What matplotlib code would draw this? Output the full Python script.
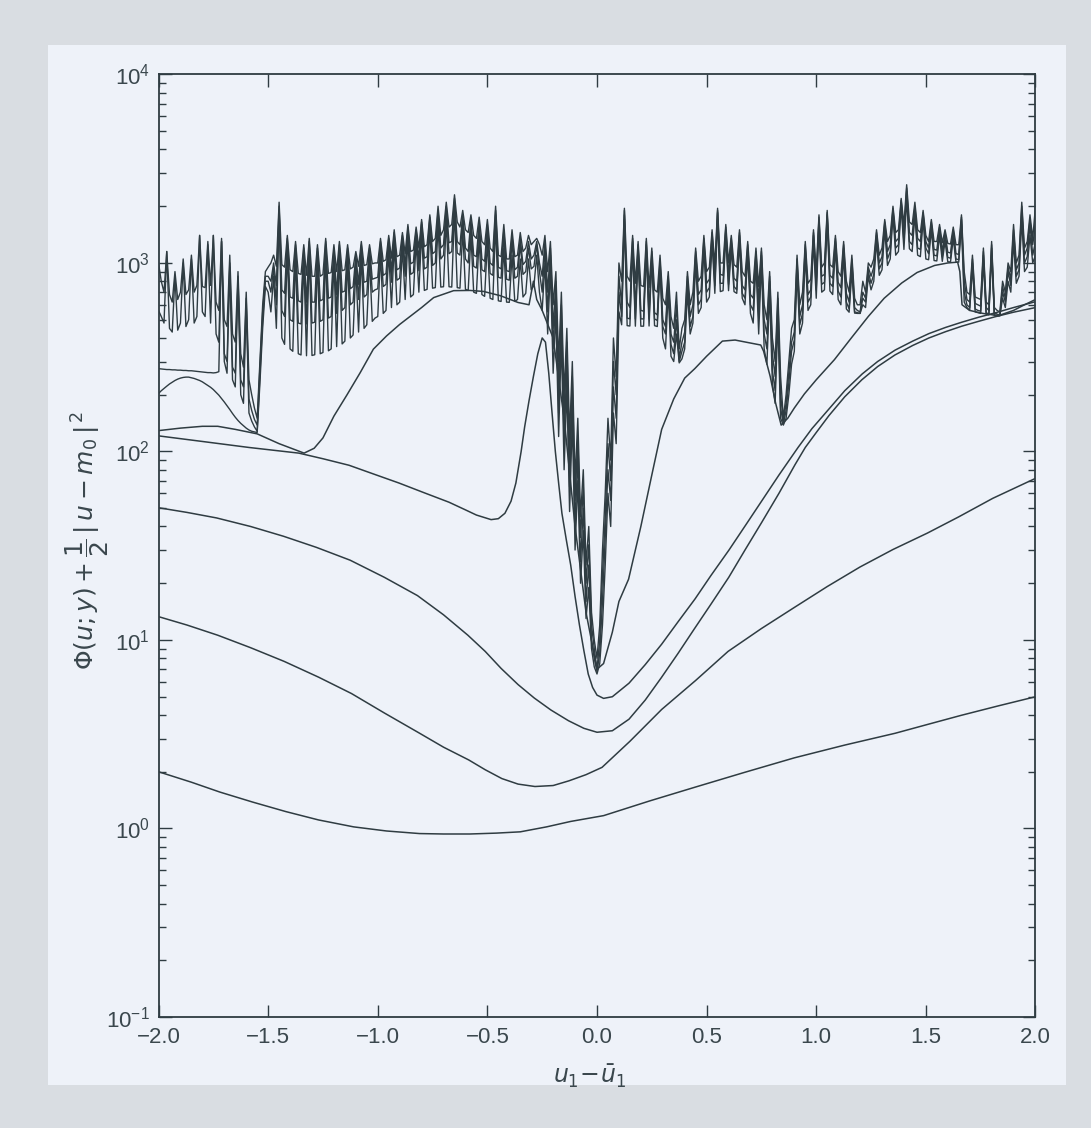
import numpy as np
import matplotlib.pyplot as plt
from matplotlib.patches import Rectangle
from matplotlib.ticker import LogLocator, NullFormatter

plt.rcParams['font.family'] = ['Liberation Sans Narrow', 'Liberation Sans', 'DejaVu Sans']
plt.rcParams['mathtext.fontset'] = 'dejavusans'

# =============================================================================
# DATA (x = u1 - u1bar)
# =============================================================================

# smooth curves (short assimilation windows)
a_x = [-2.0, -1.85, -1.72, -1.57, -1.42, -1.27, -1.11, -0.96, -0.81, -0.7,
       -0.58, -0.46, -0.35, -0.23, -0.12, 0.03, 0.24, 0.45, 0.67, 0.9,
       1.13, 1.36, 1.51, 1.66, 1.83, 2.0]
a_v = [2.0, 1.76, 1.56, 1.38, 1.23, 1.11, 1.02, 0.97, 0.94, 0.935,
       0.935, 0.945, 0.96, 1.02, 1.09, 1.17, 1.4, 1.66, 1.98, 2.37,
       2.77, 3.2, 3.57, 3.98, 4.47, 5.0]

b_x = [-2.0, -1.87, -1.73, -1.58, -1.427, -1.27, -1.12, -0.97, -0.813, -0.7,
       -0.585, -0.51, -0.434, -0.36, -0.283, -0.2, -0.128, -0.05, 0.023, 0.15,
       0.295, 0.45, 0.598, 0.75, 0.897, 1.05, 1.2, 1.35, 1.507, 1.65,
       1.805, 2.0]
b_v = [13.3, 12.0, 10.6, 9.1, 7.7, 6.35, 5.2, 4.1, 3.22, 2.7,
       2.31, 2.05, 1.84, 1.72, 1.67, 1.69, 1.79, 1.93, 2.11, 2.9,
       4.28, 6.1, 8.7, 11.5, 14.8, 19.2, 24.4, 30.2, 36.9, 45,
       56.4, 72]

c_x = [-2.0, -1.87, -1.735, -1.58, -1.43, -1.28, -1.126, -0.97, -0.819, -0.7,
       -0.589, -0.51, -0.437, -0.36, -0.286, -0.21, -0.13, -0.06, 0.0, 0.07,
       0.146, 0.22, 0.293, 0.37, 0.445, 0.52, 0.601, 0.675, 0.751, 0.83,
       0.903, 0.95, 1.0, 1.058, 1.13, 1.208, 1.28, 1.359, 1.44, 1.514,
       1.59, 1.664, 1.74, 1.815, 1.9, 2.0]
c_v = [50.3, 47.5, 44.4, 40, 35.5, 31, 26.5, 21.5, 17.2, 13.6,
       10.6, 8.7, 7.06, 5.8, 4.92, 4.25, 3.73, 3.4, 3.24, 3.3,
       3.8, 4.8, 6.3, 8.5, 11.5, 15.5, 21.5, 30, 42, 60,
       85, 105, 126, 155, 195, 240, 282, 325, 365, 400,
       432, 462, 490, 518, 548, 580]

d_x = [-2.0, -1.8, -1.587, -1.36, -1.25, -1.131, -1.02, -0.903, -0.79, -0.675,
       -0.6, -0.55, -0.483, -0.45, -0.42, -0.392, -0.37, -0.346, -0.33, -0.31,
       -0.29, -0.27, -0.25, -0.235, -0.22, -0.205, -0.19, -0.175, -0.16, -0.14,
       -0.12, -0.1, -0.08, -0.06, -0.04, -0.02, 0.0, 0.03, 0.07, 0.146,
       0.22, 0.295, 0.37, 0.447, 0.52, 0.602, 0.68, 0.753, 0.83, 0.917,
       0.98, 1.058, 1.13, 1.21, 1.28, 1.36, 1.44, 1.514, 1.59, 1.664,
       1.74, 1.815, 1.9, 2.0]
d_v = [121, 113, 105, 98, 91.5, 84.5, 76, 68, 60.5, 53.8,
       49, 46, 43.5, 44, 47, 54.5, 68, 100, 135, 186,
       250, 330, 400, 380, 260, 160, 100, 68, 47, 34,
       25, 17, 12, 8.8, 6.6, 5.6, 5.1, 4.9, 5.0, 5.9,
       7.4, 9.5, 12.5, 16.5, 22, 30, 41, 55, 75, 105,
       132, 168, 210, 258, 300, 345, 385, 422, 455, 485,
       515, 543, 580, 623]

e_x = [-2.0, -1.9, -1.8, -1.73, -1.65, -1.55, -1.45, -1.336, -1.29, -1.25,
       -1.2, -1.14, -1.08, -1.02, -0.96, -0.9, -0.8, -0.745, -0.654, -0.58,
       -0.517, -0.44, -0.36, -0.31, -0.29, -0.275, -0.25, -0.2, -0.15, -0.1,
       -0.05, 0.0, 0.03, 0.07, 0.1, 0.144, 0.2, 0.25, 0.295, 0.35,
       0.4, 0.446, 0.5, 0.572, 0.63, 0.69, 0.747, 0.76, 0.79, 0.815,
       0.84, 0.87, 0.9, 0.946, 1.0, 1.083, 1.16, 1.238, 1.31, 1.39,
       1.46, 1.54, 1.6, 1.645, 1.655, 1.665, 1.7, 1.76, 1.83, 1.9,
       1.95, 2.0]
e_v = [129, 133, 136, 136, 131, 124, 110, 98, 104, 118,
       154, 200, 262, 349, 410, 472, 580, 655, 713, 715,
       706, 670, 617, 600, 800, 640, 560, 400, 150, 40,
       14, 7, 7.5, 11, 16, 21, 40, 75, 131, 190,
       245, 275, 320, 385, 390, 378, 367, 340, 250, 180,
       138, 150, 170, 202, 240, 307, 400, 521, 650, 783,
       890, 970, 1000, 1010, 900, 600, 560, 540, 525, 560,
       600, 640]

# rugged curves (long windows), sampled every 0.0125 from -2 to 2 (321 values)
rough_x = np.linspace(-2.0, 2.0, 321)

f_v = [203, 210, 216, 222, 228, 233, 238, 242, 245, 247, 248, 248, 246, 244, 241, 238, 234, 229, 224, 219,
       213, 206, 199, 191, 183, 175, 167, 159, 152, 146, 141, 137, 133, 130, 128, 127, 126, 230, 450, 750,
       700, 550, 850, 450, 1800, 400, 370, 1200, 350, 340, 1100, 330, 325, 1050, 322, 1150, 323, 326, 1050, 330,
       335, 1150, 342, 350, 1050, 360, 1100, 372, 385, 1050, 400, 415, 950, 430, 1100, 450, 470, 1050, 490, 510,
       520, 1100, 540, 560, 1150, 580, 1250, 600, 620, 1200, 640, 1350, 660, 680, 1300, 700, 1450, 715, 725, 1550,
       735, 740, 1600, 745, 748, 1700, 748, 745, 1900, 740, 735, 1500, 725, 715, 1400, 700, 690, 1350, 680, 665,
       1300, 650, 640, 1600, 630, 625, 1200, 620, 618, 1100, 625, 640, 1050, 660, 690, 1050, 720, 760, 1100, 700,
       560, 1000, 420, 950, 260, 550, 120, 400, 80, 220, 48, 150, 30, 70, 20, 38, 13, 19, 9, 7.2,
       6.6, 7.5, 12, 25, 60, 40, 160, 110, 550, 470, 1700, 465, 463, 1200, 462, 1100, 462, 462, 1150, 463,
       1050, 465, 460, 950, 400, 350, 700, 320, 300, 420, 295, 310, 350, 700, 420, 480, 1000, 540, 580, 1200,
       620, 660, 1300, 690, 1700, 705, 713, 1400, 713, 1200, 705, 690, 1300, 650, 600, 1100, 540, 480, 1000, 420,
       1000, 350, 290, 700, 230, 180, 500, 150, 138, 150, 200, 290, 340, 900, 420, 480, 1100, 560, 600, 1300,
       650, 1600, 700, 720, 1700, 710, 680, 1200, 640, 600, 1100, 570, 548, 900, 542, 540, 540, 600, 580, 850,
       720, 800, 1300, 860, 920, 1500, 970, 1050, 1800, 1100, 1150, 2000, 1180, 2200, 1190, 1150, 1800, 1100, 1080, 1700,
       1050, 1040, 1500, 1030, 1025, 1400, 1020, 1300, 1015, 1012, 1350, 1010, 1010, 1600, 620, 580, 560, 950, 550, 545,
       540, 1000, 535, 530, 1100, 527, 525, 525, 650, 580, 800, 700, 1300, 780, 850, 1700, 900, 950, 1400, 1000,
       1100]

h_v = [275, 274, 273, 272, 272, 271, 271, 270, 270, 269, 269, 268, 268, 267, 266, 265, 264, 263, 262, 262,
       261, 262, 265, 1300, 300, 260, 950, 240, 220, 800, 200, 180, 600, 160, 145, 135, 128, 250, 500, 800,
       800, 700, 950, 600, 1900, 560, 520, 1300, 500, 490, 1200, 480, 475, 1150, 475, 1250, 480, 485, 1150, 490,
       500, 1250, 510, 520, 1150, 540, 1200, 560, 580, 1150, 600, 620, 1050, 640, 1200, 660, 680, 1150, 700, 720,
       730, 1250, 750, 770, 1300, 790, 1400, 810, 830, 1350, 850, 1500, 870, 890, 1450, 910, 1600, 930, 950, 1700,
       970, 1000, 1800, 1050, 1100, 1900, 1120, 1150, 2100, 1130, 1100, 1700, 1050, 1000, 1600, 960, 940, 1550, 920, 900,
       1500, 880, 860, 1800, 840, 830, 1400, 820, 810, 1300, 830, 850, 1250, 870, 900, 1200, 930, 960, 1250, 900,
       700, 1200, 550, 1100, 350, 700, 160, 500, 110, 300, 65, 200, 40, 95, 26, 50, 16, 25, 10, 8,
       6.8, 8.5, 16, 35, 80, 55, 220, 150, 700, 520, 1800, 510, 505, 1300, 505, 1200, 505, 505, 1250, 505,
       1100, 505, 495, 1000, 460, 420, 800, 370, 330, 500, 300, 340, 380, 800, 460, 520, 1100, 600, 640, 1300,
       700, 740, 1400, 760, 1850, 780, 780, 1500, 770, 1300, 750, 720, 1400, 690, 650, 1200, 600, 560, 1100, 520,
       1100, 420, 350, 800, 270, 210, 600, 170, 140, 165, 230, 340, 390, 1000, 470, 540, 1200, 620, 660, 1400,
       720, 1700, 770, 790, 1800, 780, 750, 1300, 710, 660, 1200, 620, 570, 1000, 550, 545, 540, 650, 620, 900,
       780, 870, 1400, 930, 1000, 1600, 1050, 1150, 1900, 1200, 1250, 2100, 1280, 2400, 1300, 1250, 1900, 1200, 1180, 1800,
       1200, 1120, 1600, 1100, 1090, 1500, 1080, 1400, 1070, 1060, 1450, 1050, 1040, 1700, 700, 600, 580, 1000, 570, 560,
       555, 1100, 545, 535, 1200, 530, 527, 525, 700, 620, 900, 760, 1400, 850, 920, 1900, 1000, 1080, 1600, 1100,
       1300]

i_v = [560, 520, 480, 1150, 450, 430, 850, 440, 480, 1000, 460, 500, 1050, 480, 520, 1400, 550, 520, 1250, 480,
       1400, 420, 380, 1300, 330, 300, 1000, 280, 260, 850, 240, 220, 650, 190, 165, 148, 138, 280, 550, 850,
       850, 800, 1000, 760, 2000, 720, 690, 1350, 660, 650, 1250, 630, 620, 1200, 620, 1300, 620, 620, 1200, 630,
       640, 1300, 650, 660, 1200, 680, 1250, 700, 710, 1200, 730, 750, 1100, 770, 1250, 790, 800, 1200, 820, 830,
       840, 1300, 860, 880, 1350, 900, 1450, 920, 940, 1400, 960, 1550, 990, 1010, 1500, 1040, 1650, 1060, 1080, 1750,
       1120, 1150, 1900, 1200, 1250, 2000, 1280, 1300, 2200, 1300, 1250, 1800, 1200, 1150, 1700, 1100, 1080, 1650, 1050, 1020,
       1600, 1000, 970, 1900, 950, 930, 1500, 910, 900, 1400, 920, 950, 1350, 980, 1020, 1300, 1050, 1100, 1300, 1000,
       850, 1300, 700, 1200, 450, 800, 220, 600, 150, 380, 90, 250, 55, 120, 35, 65, 20, 32, 12, 9,
       7, 10, 22, 45, 110, 70, 300, 200, 850, 600, 1900, 620, 580, 1350, 570, 1250, 560, 555, 1300, 550,
       1150, 545, 530, 1050, 500, 460, 850, 420, 380, 600, 310, 380, 430, 850, 520, 600, 1150, 680, 720, 1350,
       780, 820, 1450, 850, 1900, 870, 860, 1550, 850, 1350, 830, 800, 1450, 760, 720, 1250, 680, 650, 1150, 620,
       1150, 500, 420, 850, 330, 250, 650, 200, 145, 180, 260, 380, 430, 1050, 520, 600, 1250, 680, 720, 1450,
       800, 1750, 850, 870, 1850, 860, 830, 1350, 790, 740, 1250, 690, 620, 1050, 580, 560, 550, 700, 650, 950,
       850, 950, 1450, 1000, 1080, 1650, 1150, 1250, 1950, 1300, 1350, 2150, 1400, 2500, 1450, 1400, 2000, 1350, 1300, 1850,
       1300, 1200, 1650, 1180, 1170, 1550, 1150, 1450, 1140, 1130, 1500, 1120, 1110, 1750, 800, 640, 620, 1050, 610, 600,
       590, 1150, 580, 560, 1250, 545, 535, 530, 750, 650, 950, 820, 1500, 920, 1000, 2000, 1100, 1200, 1700, 1250,
       1600]

j_v = [1000, 800, 700, 1150, 680, 620, 900, 640, 700, 1050, 680, 720, 1100, 700, 760, 1400, 750, 740, 1300, 760,
       1400, 620, 560, 1350, 500, 460, 1100, 420, 380, 900, 330, 280, 700, 240, 200, 170, 150, 300, 600, 900,
       950, 1000, 1100, 960, 2100, 980, 950, 1400, 920, 900, 1300, 880, 870, 1250, 860, 1350, 850, 850, 1250, 850,
       870, 1350, 880, 890, 1250, 900, 1300, 910, 920, 1250, 930, 950, 1150, 960, 1300, 970, 980, 1250, 990, 1000,
       1000, 1350, 1020, 1040, 1400, 1060, 1500, 1080, 1100, 1450, 1120, 1600, 1150, 1170, 1550, 1200, 1700, 1220, 1250, 1800,
       1300, 1350, 2000, 1400, 1500, 2100, 1550, 1600, 2300, 1650, 1550, 1900, 1500, 1450, 1800, 1400, 1350, 1750, 1300, 1250,
       1700, 1200, 1150, 2000, 1100, 1080, 1600, 1050, 1050, 1500, 1080, 1100, 1450, 1150, 1200, 1400, 1250, 1300, 1350, 1250,
       1100, 1400, 900, 1300, 600, 900, 300, 700, 200, 450, 120, 300, 70, 150, 45, 80, 25, 40, 14, 10,
       8, 12, 30, 60, 150, 90, 400, 250, 1000, 800, 1950, 850, 800, 1400, 780, 1300, 760, 750, 1350, 740,
       1200, 720, 700, 1100, 650, 600, 900, 520, 450, 700, 350, 450, 500, 900, 600, 700, 1200, 800, 850, 1400,
       900, 950, 1500, 980, 1950, 1000, 1000, 1600, 1000, 1400, 980, 950, 1500, 900, 850, 1300, 800, 780, 1200, 750,
       1200, 600, 500, 900, 400, 300, 700, 250, 150, 200, 300, 450, 500, 1100, 600, 700, 1300, 780, 820, 1500,
       900, 1800, 950, 1000, 1900, 980, 950, 1400, 900, 850, 1300, 800, 700, 1100, 650, 600, 600, 800, 700, 1000,
       950, 1050, 1500, 1100, 1200, 1700, 1300, 1400, 2000, 1450, 1500, 2200, 1600, 2600, 1650, 1600, 2100, 1500, 1450, 1900,
       1400, 1300, 1700, 1300, 1300, 1600, 1280, 1500, 1270, 1260, 1550, 1250, 1250, 1800, 900, 700, 680, 1100, 660, 650,
       640, 1200, 620, 600, 1300, 580, 560, 550, 800, 700, 1000, 900, 1600, 1000, 1100, 2100, 1200, 1300, 1800, 1350,
       2000]

x_ticks = [-2.0, -1.5, -1.0, -0.5, 0.0, 0.5, 1.0, 1.5, 2.0]
x_tick_labels = ['\u22122.0', '\u22121.5', '\u22121.0', '\u22120.5', '0.0',
                 '0.5', '1.0', '1.5', '2.0']

# =============================================================================
# FIGURE
# =============================================================================

LINE = '#2f3c42'
TEXT = '#3a474d'
PAPER = '#eef2f9'
SCAN = '#d9dde2'

fig = plt.figure(figsize=(10.91, 11.28), dpi=100, facecolor=SCAN)
paper = Rectangle((0.044, 0.038), 0.933, 0.922, transform=fig.transFigure,
                  facecolor=PAPER, edgecolor='none', zorder=-10)
fig.add_artist(paper)

ax = fig.add_axes([0.1453, 0.0984, 0.8038, 0.8356])
ax.set_zorder(1)
ax.set_facecolor(PAPER)

for xs, vs in [(a_x, a_v), (b_x, b_v), (c_x, c_v), (d_x, d_v), (e_x, e_v)]:
    ax.plot(xs, vs, color=LINE, lw=1.1)

for vs in [f_v, h_v, i_v, j_v]:
    ax.plot(rough_x, vs, color=LINE, lw=1.0)

ax.set_yscale('log')
ax.set_xlim(-2.0, 2.0)
ax.set_ylim(0.1, 1e4)

ax.set_xticks(x_ticks)
ax.set_xticklabels(x_tick_labels)
ax.yaxis.set_major_locator(LogLocator(base=10, numticks=10))
ax.yaxis.set_minor_locator(LogLocator(base=10, subs=np.arange(2, 10), numticks=20))
ax.yaxis.set_minor_formatter(NullFormatter())

ax.tick_params(which='both', direction='in', top=True, right=True,
               colors=LINE, labelcolor=TEXT, labelsize=16)
ax.tick_params(which='major', length=9, width=1.0)
ax.tick_params(which='minor', length=5, width=1.0)
ax.tick_params(axis='x', pad=7)
ax.tick_params(axis='y', pad=6)

for s in ax.spines.values():
    s.set_color(LINE)
    s.set_linewidth(1.3)

ax.set_ylabel(r'$\Phi(u;y)+\dfrac{1}{2}\,|\,u-m_0\,|^{\,2}$', fontsize=18, color=TEXT)
ax.yaxis.set_label_coords(-0.054, 0.506)
ax.set_xlabel(r'$u_1\!-\!\bar{u}_1$', fontsize=17, color=TEXT)
ax.xaxis.set_label_coords(0.492, -0.049)

fig.savefig('out.png', dpi=100, facecolor=fig.get_facecolor())
